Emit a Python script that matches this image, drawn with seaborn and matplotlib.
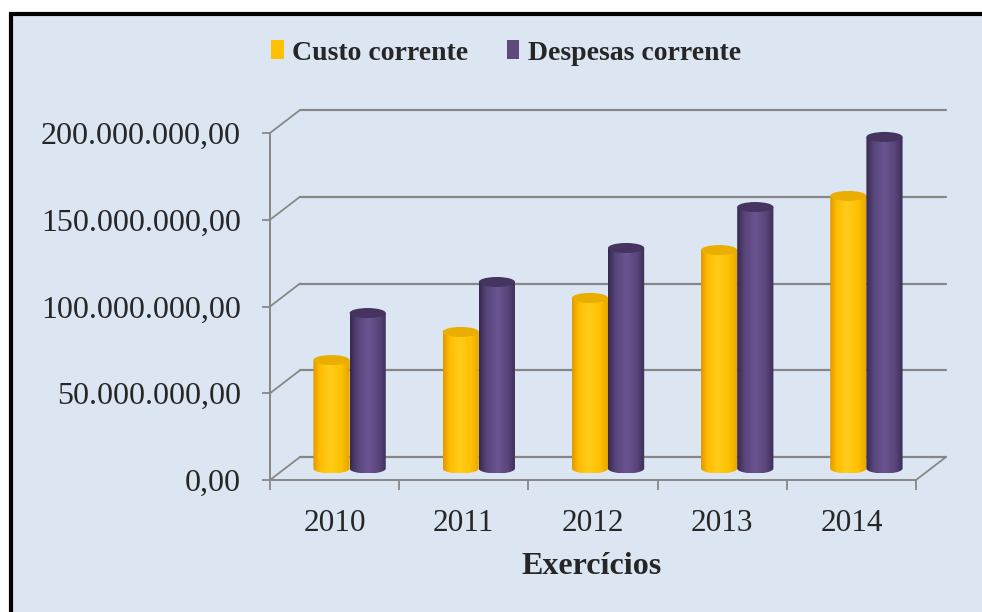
import numpy as np
import pandas as pd
import matplotlib
matplotlib.use("Agg")
import matplotlib.pyplot as plt
import seaborn as sns
from matplotlib.patches import Rectangle, Ellipse, PathPatch, Patch
from matplotlib.path import Path
from matplotlib.colors import LinearSegmentedColormap
from matplotlib.ticker import FuncFormatter

# ---------------- data ----------------
anos = ["2010", "2011", "2012", "2013", "2014"]
series = ["Custo corrente", "Despesas corrente"]
custo = [62.5e6, 78.7e6, 98.3e6, 125.9e6, 157.1e6]
despesas = [89.6e6, 107.5e6, 127.1e6, 150.7e6, 191.1e6]
yticks = [0, 50e6, 100e6, 150e6, 200e6]
xlabel = "Exercícios"

df = pd.DataFrame({
    "Ano": anos * 2,
    "Valor": custo + despesas,
    "Serie": [series[0]] * len(anos) + [series[1]] * len(anos),
})

# ---------------- style ----------------
sns.set_style("white")
plt.rcParams["font.family"] = ["Liberation Serif", "DejaVu Serif"]

yellow = "#FFC000"
purple = "#604A7B"
grid_c = "#878787"
text_c = "#262626"

fig = plt.figure(figsize=(9.82, 6.12), dpi=100)
fig.patch.set_facecolor("white")
fig.patches.append(Rectangle((11 / 982, -0.05), 1.2, (612 - 14) / 612 + 0.05,
                             transform=fig.transFigure, facecolor="#DCE6F2",
                             edgecolor="black", lw=3, zorder=-10))

ax = fig.add_axes([270 / 982, (612 - 480) / 612, 646 / 982, 347 / 612])
ax.set_facecolor("none")

sns.barplot(data=df, x="Ano", y="Valor", hue="Serie", palette=[yellow, purple],
            width=0.56, saturation=1, legend=False, ax=ax)

ax.set_xlim(-0.5, 4.5)
ax.set_ylim(0, 200e6)

# depth offsets (back wall) in data units
px_x = 5 / 646.0
px_y = 200e6 / 347.0
DX = 30 * px_x
DY = 23 * px_y
EH = 10 * px_y  # ellipse height of cylinder caps

cmaps = [
    LinearSegmentedColormap.from_list("y", [(0, "#E09800"), (0.18, "#FFBD00"),
                                            (0.45, "#FFCC1C"), (0.75, "#FFC200"),
                                            (1, "#E6A400")]),
    LinearSegmentedColormap.from_list("p", [(0, "#36284F"), (0.2, "#574479"),
                                            (0.5, "#6A5592"), (0.8, "#584478"),
                                            (1, "#3B2D58")]),
]
caps = ["#EAAE00", "#44345F"]
grad = np.linspace(0, 1, 256)[None, :]

for si, cont in enumerate(ax.containers):
    for bar in cont:
        x = bar.get_x() + DX / 2
        w = bar.get_width()
        h = bar.get_height()
        y0 = DY / 2
        y1 = y0 + h
        xc = x + w / 2
        bar.set_visible(False)
        t = np.linspace(np.pi, 2 * np.pi, 60)
        verts = [(x, y1), (x, y0)]
        verts += list(zip(xc + w / 2 * np.cos(t), y0 + EH / 2 * np.sin(t)))
        verts += [(x + w, y1), (x, y1)]
        codes = [Path.MOVETO] + [Path.LINETO] * (len(verts) - 2) + [Path.CLOSEPOLY]
        pp = PathPatch(Path(verts, codes), facecolor="none", edgecolor="none",
                       transform=ax.transData)
        ax.add_patch(pp)
        im = ax.imshow(grad, cmap=cmaps[si], aspect="auto",
                       extent=[x, x + w, y0 - EH / 2, y1], zorder=3 + si,
                       interpolation="bilinear")
        im.set_clip_path(pp)
        ax.add_patch(Ellipse((xc, y1), w, EH, facecolor=caps[si],
                             edgecolor="none", zorder=3.5 + si, clip_on=False))

ax.set_xlim(-0.5, 4.5)
ax.set_ylim(0, 200e6)

# back wall gridlines and diagonals
for v in yticks:
    ax.plot([-0.5 + DX, 4.5 + DX], [v + DY, v + DY], color=grid_c, lw=1.6,
            clip_on=False, zorder=1)
    ax.plot([-0.5, -0.5 + DX], [v, v + DY], color=grid_c, lw=1.3,
            clip_on=False, zorder=1)
ax.plot([4.5, 4.5 + DX], [0, DY], color=grid_c, lw=1.3, clip_on=False, zorder=1)

# axes styling
for s in ["top", "right"]:
    ax.spines[s].set_visible(False)
for s in ["left", "bottom"]:
    ax.spines[s].set_color(grid_c)
    ax.spines[s].set_linewidth(1.4)

ax.set_yticks(yticks)
ax.yaxis.set_major_formatter(FuncFormatter(
    lambda v, p: f"{v:,.2f}".replace(",", "X").replace(".", ",").replace("X", ".")))
ax.set_xticks(range(len(anos)))
ax.set_xticklabels(anos)
ax.set_xticks(np.arange(-0.5, 5, 1), minor=True)
ax.tick_params(axis="y", length=6, width=1.3, color=grid_c, pad=15,
               labelsize=23, labelcolor=text_c, left=True)
ax.tick_params(axis="x", which="major", length=0, pad=21, labelsize=22.5,
               labelcolor=text_c, bottom=True)
ax.tick_params(axis="x", which="minor", length=7, width=1.3, color=grid_c,
               direction="out", bottom=True)
ax.set_xlabel("")
ax.set_ylabel("")

fig.text(592 / 982, 1 - 566 / 612, xlabel, ha="center", va="center",
         fontsize=23, fontweight="bold", color=text_c)

handles = [Patch(facecolor=yellow, edgecolor="none"),
           Patch(facecolor=purple, edgecolor="none")]
fig.legend(handles, series, loc="center", bbox_to_anchor=(506 / 982, 1 - 53 / 612),
           ncol=2, frameon=False, prop={"weight": "bold", "size": 20},
           handlelength=0.45, handleheight=0.65, handletextpad=0.3,
           columnspacing=1.4, labelcolor=text_c)

fig.savefig("out.png", dpi=100)
